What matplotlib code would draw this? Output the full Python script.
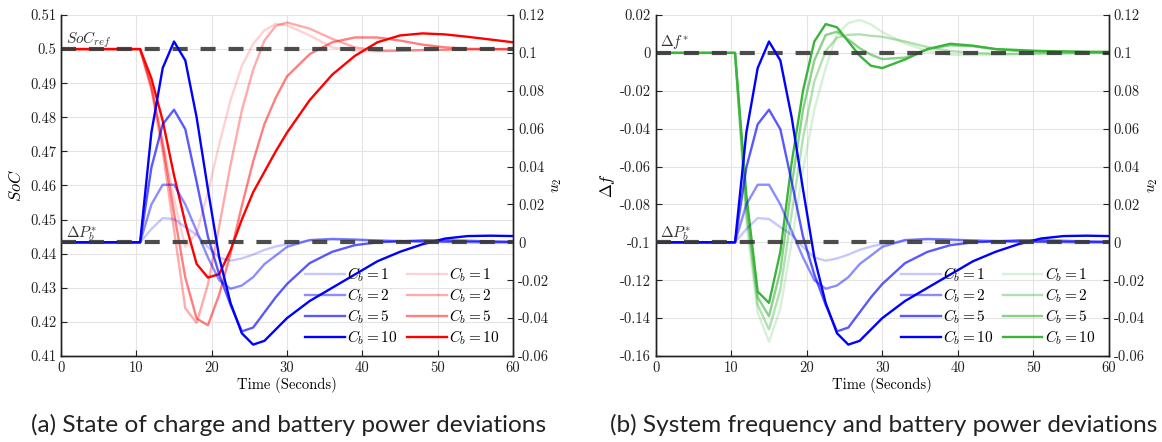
import numpy as np
import matplotlib.pyplot as plt
from matplotlib.ticker import FuncFormatter, MultipleLocator

plt.rcParams['font.family'] = 'cmr10'
plt.rcParams['mathtext.fontset'] = 'cm'
plt.rcParams['axes.unicode_minus'] = False

# sample times (s)
t = [0, 10.5, 12, 13.5, 15, 16.5, 18, 19.5, 21, 22.5, 24, 25.5, 27, 28.5, 30,
     33, 36, 39, 42, 45, 48, 51, 54, 57, 60]
cb_labels = ['1', '2', '5', '10']

# battery control input u2 for each Cb
u2_cb1 = [0, 0, 0.007, 0.0128, 0.0123, 0.008, 0.004, -0.0025, -0.008, -0.0097, -0.0085,
          -0.0065, -0.004, -0.0022, -0.001, 0.001, 0.0015, 0.0012, 0.0008, 0.0005, 0.0003,
          0.0002, 0.0001, 0.0, 0.0]
u2_cb2 = [0, 0, 0.020, 0.0304, 0.0304, 0.020, 0.006, -0.008, -0.020, -0.0245, -0.0228,
          -0.0184, -0.0115, -0.007, -0.0024, 0.0012, 0.0018, 0.0015, 0.001, 0.0007, 0.0004,
          0.0002, 0.0001, 0.0, 0.0]
u2_cb5 = [0, 0, 0.0395, 0.0623, 0.070, 0.0597, 0.032, 0.003, -0.017, -0.033, -0.047,
          -0.045, -0.037, -0.029, -0.022, -0.011, -0.005, -0.0015, 0.0, 0.0005, 0.001,
          0.001, 0.0008, 0.0005, 0.0003]
u2_cb10 = [0, 0, 0.058, 0.092, 0.106, 0.096, 0.066, 0.028, -0.008, -0.032, -0.048,
           -0.054, -0.052, -0.046, -0.040, -0.031, -0.024, -0.017, -0.010, -0.005, -0.001,
           0.002, 0.0033, 0.0035, 0.0033]

# state of charge
soc_cb1 = [0.5, 0.5, 0.489, 0.473, 0.456, 0.442, 0.446, 0.458, 0.472, 0.485, 0.495,
           0.5015, 0.5055, 0.5074, 0.507, 0.504, 0.5005, 0.4995, 0.4993, 0.4995, 0.4997,
           0.4998, 0.4999, 0.5, 0.5]
soc_cb2 = [0.5, 0.5, 0.488, 0.47, 0.447, 0.424, 0.4197, 0.431, 0.448, 0.466, 0.482,
           0.4939, 0.5025, 0.5068, 0.5078, 0.506, 0.503, 0.5005, 0.4995, 0.4995, 0.4997,
           0.4998, 0.4999, 0.5, 0.5]
soc_cb5 = [0.5, 0.5, 0.489, 0.472, 0.452, 0.433, 0.421, 0.419, 0.428, 0.44, 0.454,
           0.467, 0.478, 0.4857, 0.492, 0.4985, 0.502, 0.5034, 0.5034, 0.5025, 0.5013,
           0.5005, 0.5001, 0.5, 0.4999]
soc_cb10 = [0.5, 0.5, 0.4914, 0.479, 0.463, 0.449, 0.437, 0.433, 0.434, 0.441, 0.450,
            0.458, 0.464, 0.470, 0.4755, 0.485, 0.4925, 0.498, 0.502, 0.504, 0.5046,
            0.5043, 0.5036, 0.5028, 0.502]

# frequency deviation
df_cb1 = [0, 0, -0.09, -0.137, -0.1525, -0.135, -0.10, -0.062, -0.030, -0.008, 0.01,
          0.0157, 0.0174, 0.015, 0.011, 0.005, 0.001, -0.001, -0.0012, -0.0011, -0.0008,
          -0.0005, -0.0003, -0.0002, -0.0001]
df_cb2 = [0, 0, -0.085, -0.133, -0.146, -0.125, -0.085, -0.045, -0.015, 0.001, 0.008,
          0.0095, 0.0098, 0.009, 0.0085, 0.006, 0.003, 0.001, 0.0, -0.0005, -0.0005,
          -0.0003, -0.0002, -0.0001, 0.0]
df_cb5 = [0, 0, -0.080, -0.129, -0.139, -0.115, -0.07, -0.030, -0.004, 0.0094, 0.0112,
          0.007, 0.0025, -0.001, -0.0033, -0.0025, 0.002, 0.004, 0.0035, 0.002, 0.001,
          0.0006, 0.0004, 0.0003, 0.0002]
df_cb10 = [0, 0, -0.075, -0.126, -0.132, -0.105, -0.058, -0.020, 0.006, 0.0152, 0.0135,
           0.006, -0.0015, -0.0068, -0.008, -0.0035, 0.002, 0.0048, 0.0038, 0.002, 0.0015,
           0.001, 0.0008, 0.0006, 0.0005]

soc_ref = 0.5
df_ref = 0.0
dp_ref = 0.0

u2_all = [u2_cb1, u2_cb2, u2_cb5, u2_cb10]
soc_all = [soc_cb1, soc_cb2, soc_cb5, soc_cb10]
df_all = [df_cb1, df_cb2, df_cb5, df_cb10]

blue_alpha = [0.22, 0.45, 0.65, 1.0]
red_alpha = [0.18, 0.33, 0.5, 1.0]
green_alpha = [0.2, 0.4, 0.6, 1.0]
green = '#3cb43c'

fig = plt.figure(figsize=(11.62, 4.42), dpi=100)
ax1 = fig.add_axes([0.0525, 0.1946, 0.389, 0.7715])
ax2 = fig.add_axes([0.5643, 0.1946, 0.390, 0.7715])

fmt = FuncFormatter(lambda v, p: '%g' % round(v, 4))
dash_kw = dict(color='#3a3a3a', lw=3, dashes=(3.6, 3.1), alpha=0.9, zorder=5)


def style_axes(ax, axr):
    ax.set_xlim(0, 60)
    ax.xaxis.set_major_locator(MultipleLocator(10))
    axr.set_ylim(-0.06, 0.12)
    axr.yaxis.set_major_locator(MultipleLocator(0.02))
    for a in (ax, axr):
        a.tick_params(direction='in', length=4, width=0.8, labelsize=10.5, colors='#222222')
        a.yaxis.set_major_formatter(fmt)
        a.spines['top'].set_visible(False)
        for s in a.spines.values():
            s.set_color('#222222')
            s.set_linewidth(1.0)
    ax.xaxis.set_major_formatter(fmt)
    ax.grid(True, color='#e4e4e4', lw=0.8)
    ax.set_axisbelow(True)
    ax.set_xlabel('Time (Seconds)', fontsize=10.5, labelpad=2)
    axr.set_ylabel('$u_2$', fontsize=11, labelpad=1)


# (a) state of charge
ax1r = ax1.twinx()
ax1.set_ylim(0.41, 0.51)
ax1.yaxis.set_major_locator(MultipleLocator(0.01))
style_axes(ax1, ax1r)
red_lines = []
for i in range(4):
    l, = ax1.plot(t, soc_all[i], color='red', alpha=red_alpha[i], lw=1.7,
                  label='$C_b = %s$' % cb_labels[i])
    red_lines.append(l)
ax1.axhline(soc_ref, **dash_kw)
blue_lines = []
for i in range(4):
    l, = ax1r.plot(t, u2_all[i], color='blue', alpha=blue_alpha[i], lw=1.7,
                   label='$C_b = %s$' % cb_labels[i])
    blue_lines.append(l)
ax1r.axhline(dp_ref, **dash_kw)
ax1.set_ylabel('$SoC$', fontsize=12, labelpad=4)
ax1.text(0.6, 0.5018, '$SoC_{ref}$', fontsize=11, color='#333333')
ax1r.text(0.6, 0.0028, r'$\Delta P_b^{*}$', fontsize=11, color='#333333')
ax1r.legend(blue_lines + red_lines, [l.get_label() for l in blue_lines + red_lines],
            ncol=2, frameon=False, loc='lower right', bbox_to_anchor=(0.99, 0.0),
            fontsize=11, handlelength=2.6, handletextpad=0.15, columnspacing=0.6,
            labelspacing=0.15, borderaxespad=0.2)

# (b) frequency
ax2r = ax2.twinx()
ax2.set_ylim(-0.16, 0.02)
ax2.yaxis.set_major_locator(MultipleLocator(0.02))
style_axes(ax2, ax2r)
green_lines = []
for i in range(4):
    l, = ax2.plot(t, df_all[i], color=green, alpha=green_alpha[i], lw=1.7,
                  label='$C_b = %s$' % cb_labels[i])
    green_lines.append(l)
ax2.axhline(df_ref, **dash_kw)
blue_lines2 = []
for i in range(4):
    l, = ax2r.plot(t, u2_all[i], color='blue', alpha=blue_alpha[i], lw=1.7,
                   label='$C_b = %s$' % cb_labels[i])
    blue_lines2.append(l)
ax2r.axhline(dp_ref, **dash_kw)
ax2.set_ylabel(r'$\Delta f$', fontsize=12, labelpad=2)
ax2.text(0.6, 0.0035, r'$\Delta f^{*}$', fontsize=11, color='#333333')
ax2r.text(0.6, 0.0028, r'$\Delta P_b^{*}$', fontsize=11, color='#333333')
ax2r.legend(blue_lines2 + green_lines, [l.get_label() for l in blue_lines2 + green_lines],
            ncol=2, frameon=False, loc='lower right', bbox_to_anchor=(0.99, 0.0),
            fontsize=11, handlelength=2.6, handletextpad=0.15, columnspacing=0.6,
            labelspacing=0.15, borderaxespad=0.2)

fig.text(0.2485, 0.022, '(a) State of charge and battery power deviations',
         ha='center', fontsize=17.6, family='Lato', color='#222222')
fig.text(0.7605, 0.022, '(b) System frequency and battery power deviations',
         ha='center', fontsize=17.6, family='Lato', color='#222222')

fig.savefig('out.png', dpi=100)
